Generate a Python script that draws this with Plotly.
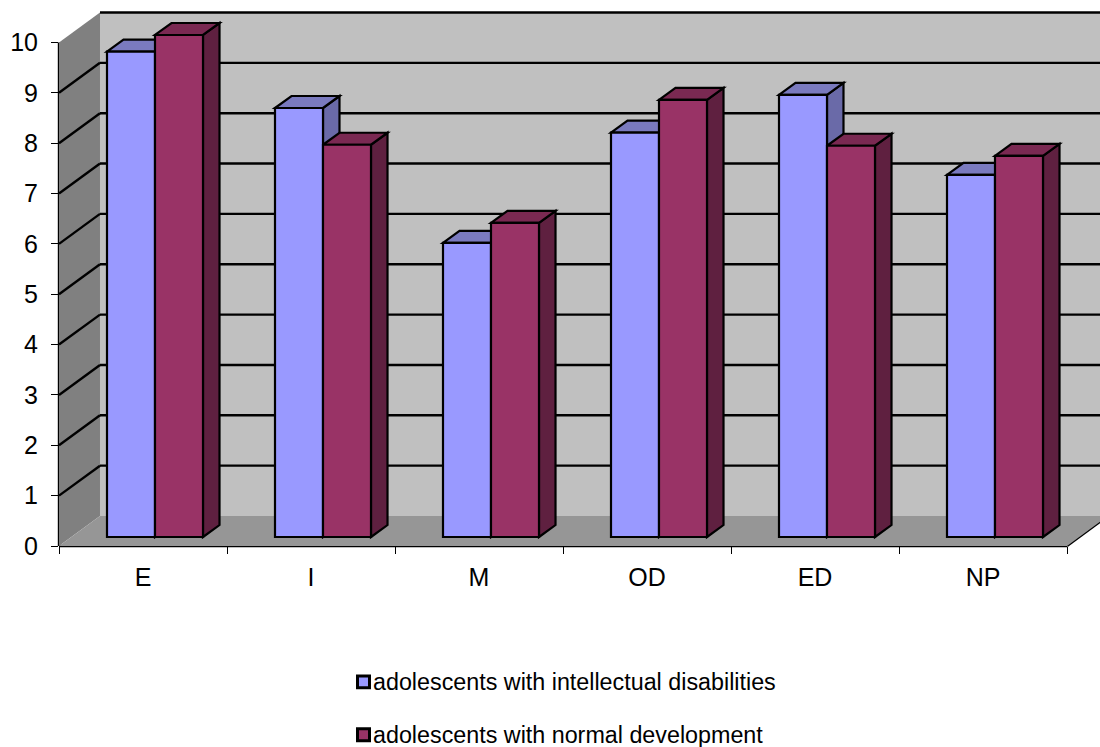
import plotly.graph_objects as go

categories = ["E", "I", "M", "OD", "ED", "NP"]
series_names = ["adolescents with intellectual disabilities",
                "adolescents with normal development"]
intellectual = [9.64, 8.52, 5.84, 8.03, 8.78, 7.19]
normal = [9.97, 7.79, 6.24, 8.68, 7.77, 7.57]
y_ticks = list(range(0, 11))

W, H = 1100, 747
L, B_PX = 59, 546.5     # pixel position of the front axes origin
PX_X, PX_Y = 168, 50.4  # pixels per category / per unit
BLACK = "#000000"
FONT = "Liberation Sans, Arial, sans-serif"

def dx(px): return px / PX_X
def dy(px): return px / PX_Y

WALL_X, WALL_Y = dx(41), dy(30)      # depth of the walls
BAR_X, BAR_Y = dx(16.5), dy(12)      # depth of a bar
BAR_OFF, BAR_W, BAR_BASE = dx(48), dx(48), dy(9)
X_END = (W - L) / PX_X
Y_END = B_PX / PX_Y
N = len(categories)

def path(points):
    return "M" + " L".join(f"{x:.4f},{y:.4f}" for x, y in points) + " Z"

def poly(points, fill, line=None, width=2.2):
    return dict(type="path", xref="x", yref="y", layer="below", path=path(points),
                fillcolor=fill, line=dict(color=line or "rgba(0,0,0,0)", width=width if line else 0))

def seg(x0, y0, x1, y1, width=2.4, color=BLACK):
    return dict(type="line", xref="x", yref="y", layer="below", x0=x0, y0=y0, x1=x1, y1=y1,
                line=dict(color=color, width=width))

def axis_seg(x0, y0, x1, y1, width=2.4):
    # paper-referenced so the line is not clipped at the edge of the plot area
    return dict(type="line", xref="paper", yref="paper", layer="below",
                x0=x0 / X_END, y0=y0 / Y_END, x1=x1 / X_END, y1=y1 / Y_END,
                line=dict(color=BLACK, width=width))

shapes = [
    poly([(WALL_X, WALL_Y), (X_END, WALL_Y), (X_END, 10 + WALL_Y), (WALL_X, 10 + WALL_Y)], "#C0C0C0"),
    poly([(0, 0), (WALL_X, WALL_Y), (WALL_X, 10 + WALL_Y), (0, 10)], "#808080"),
    poly([(0, 0), (N, 0), (N + WALL_X, WALL_Y), (X_END, WALL_Y), (X_END, WALL_Y), (WALL_X, WALL_Y)], "#969696"),
]
for v in y_ticks[1:]:
    if v < 10:
        shapes.append(seg(0, v, WALL_X, v + WALL_Y))
    shapes.append(seg(WALL_X, v + WALL_Y, X_END, v + WALL_Y))
shapes.append(axis_seg(0, 0, 0, 10))
shapes.append(axis_seg(0, 0, N, 0))
shapes.append(axis_seg(N, 0, N + WALL_X, WALL_Y))

styles = [("#9999FF", "#7A7ABF", "#6A6AA8"), ("#993366", "#7A2952", "#5F2040")]
for s, vals in enumerate([intellectual, normal]):
    for i, v in enumerate(vals):
        x0 = i + BAR_OFF + s * BAR_W
        x1 = x0 + BAR_W
        top = BAR_BASE + v
        shapes.append(poly([(x1, BAR_BASE), (x1 + BAR_X, BAR_BASE + BAR_Y),
                            (x1 + BAR_X, top + BAR_Y), (x1, top)], styles[s][2], BLACK))
        shapes.append(poly([(x0, top), (x0 + BAR_X, top + BAR_Y),
                            (x1 + BAR_X, top + BAR_Y), (x1, top)], styles[s][1], BLACK))

fig = go.Figure()
for s, vals in enumerate([intellectual, normal]):
    fig.add_trace(go.Bar(
        x=[i + BAR_OFF + (s + 0.5) * BAR_W for i in range(N)],
        y=vals, base=BAR_BASE, width=BAR_W, name=series_names[s],
        marker=dict(color=styles[s][0], line=dict(color=BLACK, width=2.2)),
        showlegend=False,
    ))

# legend row: swatch + real text
annotations = []
PW, PH = W - L, B_PX
for name, fill, py in zip(series_names, [styles[0][0], styles[1][0]], [683, 736]):
    shapes.append(dict(type="rect", xref="paper", yref="paper", layer="above",
                       x0=(357.5 - L) / PW, x1=(369.5 - L) / PW,
                       y0=(B_PX - (py + 5.5)) / PH, y1=(B_PX - (py - 6.5)) / PH,
                       fillcolor=fill, line=dict(color=BLACK, width=3)))
    annotations.append(dict(xref="paper", yref="paper", x=(373 - L) / PW, y=(B_PX - py) / PH,
                            xanchor="left", yanchor="middle", showarrow=False, text=name,
                            font=dict(family=FONT, size=23.3, color=BLACK),
                            xshift=-2))

fig.update_layout(
    width=W, height=H, autosize=False, barmode="overlay", showlegend=False,
    margin=dict(l=L, r=0, t=0, b=H - B_PX, pad=0),
    paper_bgcolor="white", plot_bgcolor="white",
    font=dict(family=FONT, size=25, color=BLACK),
    shapes=shapes, annotations=annotations,
    xaxis=dict(range=[0, X_END], showgrid=False, zeroline=False, showline=False,
               tickmode="array", tickvals=[i + 0.5 for i in range(N)], ticktext=categories,
               ticks="", tickfont=dict(family=FONT, size=25, color=BLACK), ticklabelstandoff=14,
               minor=dict(tickmode="array", tickvals=list(range(N + 1)), ticks="outside",
                          ticklen=7, tickwidth=1, tickcolor=BLACK, showgrid=False)),
    yaxis=dict(range=[0, Y_END], showgrid=False, zeroline=False, showline=False,
               tickmode="array", tickvals=y_ticks, ticktext=[str(v) for v in y_ticks],
               ticks="outside", ticklen=7, tickwidth=1, tickcolor=BLACK,
               tickfont=dict(family=FONT, size=25, color=BLACK), ticklabelstandoff=8),
)
fig.write_html("out.html", config={"displayModeBar": False},
               post_script="document.body.style.margin='0';document.documentElement.style.overflow='hidden';")
